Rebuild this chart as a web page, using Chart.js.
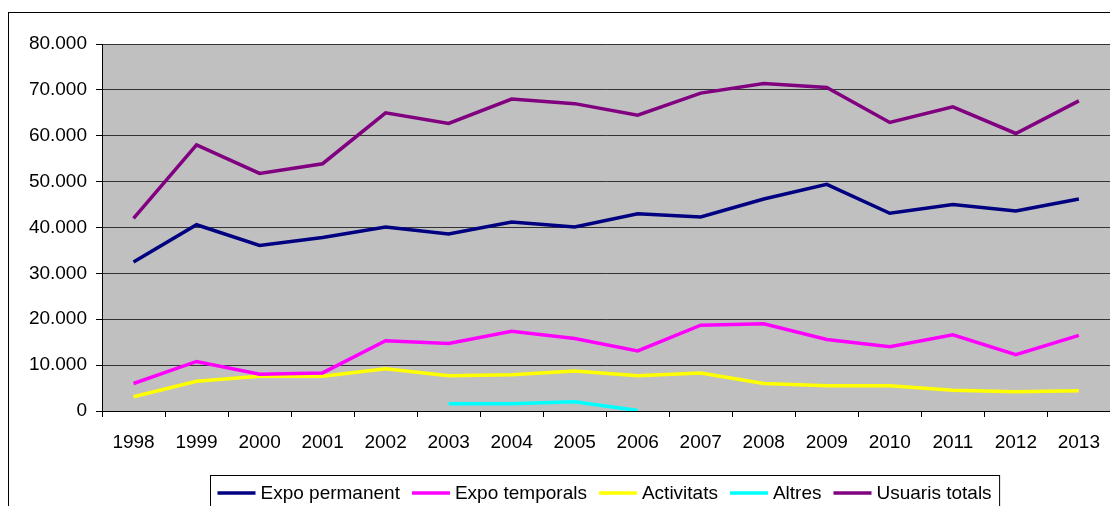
<!DOCTYPE html>
<html>
<head>
<meta charset="utf-8">
<script src="https://cdn.jsdelivr.net/npm/chart.js@4.4.0/dist/chart.umd.min.js"></script>
<style>
  html, body { margin: 0; padding: 0; background: #fff; overflow: hidden; }
  #wrap { width: 1114px; height: 506px; position: relative; }
</style>
</head>
<body>
<div id="wrap"><canvas id="usuaris-chart"></canvas></div>
<script>
var years = ["1998", "1999", "2000", "2001", "2002", "2003", "2004", "2005",
             "2006", "2007", "2008", "2009", "2010", "2011", "2012", "2013"];
var expoPermanent = [32500, 40600, 36100, 37800, 40100, 38600, 41200, 40100,
                     43000, 42300, 46200, 49400, 43100, 45000, 43600, 46200];
var expoTemporals = [6000, 10800, 8000, 8300, 15300, 14700, 17400, 15800,
                     13100, 18700, 19000, 15600, 14000, 16600, 12300, 16500];
var activitats = [3100, 6500, 7600, 7600, 9200, 7700, 7900, 8700,
                  7700, 8300, 6000, 5500, 5500, 4500, 4200, 4400];
var altres = [null, null, null, null, null, 1600, 1600, 2000,
              100, null, null, null, null, null, null, null];
var usuarisTotals = [42000, 58000, 51800, 53900, 65000, 62700, 68000, 67000,
                     64500, 69300, 71400, 70500, 62900, 66300, 60500, 67600];

var FONT = "'Liberation Sans', Arial, sans-serif";

// grey plot area
var plotBackground = {
    id: 'plotBackground',
    beforeDraw: function(chart) {
        var a = chart.chartArea, ctx = chart.ctx;
        ctx.save();
        ctx.fillStyle = '#C0C0C0';
        ctx.fillRect(a.left, a.top, a.right - a.left, a.bottom - a.top);
        ctx.restore();
    }
};

// outer frame + boxed legend (Excel style)
var chartFrame = {
    id: 'chartFrame',
    afterDraw: function(chart) {
        var ctx = chart.ctx, a = chart.chartArea;
        ctx.save();
        ctx.strokeStyle = '#000';
        ctx.lineWidth = 1;
        ctx.strokeRect(8.5, 12.5, 1300, 700);

        ctx.font = '19px ' + FONT;
        ctx.textBaseline = 'middle';
        var sample = 38, gap = 5, between = 12, padL = 7, padR = 8;
        var total = padL + padR - between;
        chart.data.datasets.forEach(function(ds) {
            total += sample + gap + ctx.measureText(ds.label).width + between;
        });
        var left = Math.round((a.left + a.right) / 2 - total / 2) - 1.5;
        var top = 475.5, y = 493;
        ctx.strokeStyle = '#000';
        ctx.lineWidth = 1;
        ctx.strokeRect(left, top, total, 60);

        var x = left + padL;
        chart.data.datasets.forEach(function(ds) {
            ctx.strokeStyle = ds.borderColor;
            ctx.lineWidth = 3.5;
            ctx.beginPath();
            ctx.moveTo(x, y);
            ctx.lineTo(x + sample, y);
            ctx.stroke();
            x += sample + gap;
            ctx.fillStyle = '#000';
            ctx.fillText(ds.label, x, y + 1);
            x += ctx.measureText(ds.label).width + between;
        });
        ctx.restore();
    }
};

function lineSet(label, data, color) {
    return {
        label: label,
        data: data,
        borderColor: color,
        backgroundColor: color,
        borderWidth: 3.5,
        pointRadius: 0,
        tension: 0,
        fill: false,
        spanGaps: false
    };
}

var ctx = document.getElementById("usuaris-chart").getContext("2d");

new Chart(ctx, {
    type: 'line',
    data: {
        labels: years,
        datasets: [
            lineSet("Expo permanent", expoPermanent, '#000080'),
            lineSet("Expo temporals", expoTemporals, '#FF00FF'),
            lineSet("Activitats", activitats, '#FFFF00'),
            lineSet("Altres", altres, '#00FFFF'),
            lineSet("Usuaris totals", usuarisTotals, '#800080')
        ]
    },
    options: {
        responsive: true,
        maintainAspectRatio: false,
        animation: false,
        layout: {
            padding: { top: 44, left: 0, right: 0, bottom: 0 }
        },
        plugins: {
            legend: { display: false },
            tooltip: { enabled: false }
        },
        scales: {
            x: {
                type: 'category',
                offset: true,
                grid: {
                    offset: true,
                    drawOnChartArea: false,
                    drawTicks: true,
                    tickLength: 6,
                    color: '#000'
                },
                border: { display: true, color: '#000' },
                ticks: {
                    autoSkip: false,
                    maxRotation: 0,
                    padding: 14,
                    color: '#000',
                    font: { size: 19, family: FONT }
                },
                afterFit: function(scale) { scale.height = 95; }
            },
            y: {
                min: 0,
                max: 80000,
                grid: {
                    color: '#333',
                    drawTicks: true,
                    tickLength: 6,
                    tickColor: '#000'
                },
                border: { display: true, color: '#000' },
                ticks: {
                    stepSize: 10000,
                    padding: 9,
                    color: '#000',
                    font: { size: 19, family: FONT },
                    callback: function(value) {
                        return String(value).replace(/\B(?=(\d{3})+(?!\d))/g, '.');
                    }
                },
                afterFit: function(scale) { scale.width = 102; }
            }
        }
    },
    plugins: [plotBackground, chartFrame]
});
</script>
</body>
</html>
